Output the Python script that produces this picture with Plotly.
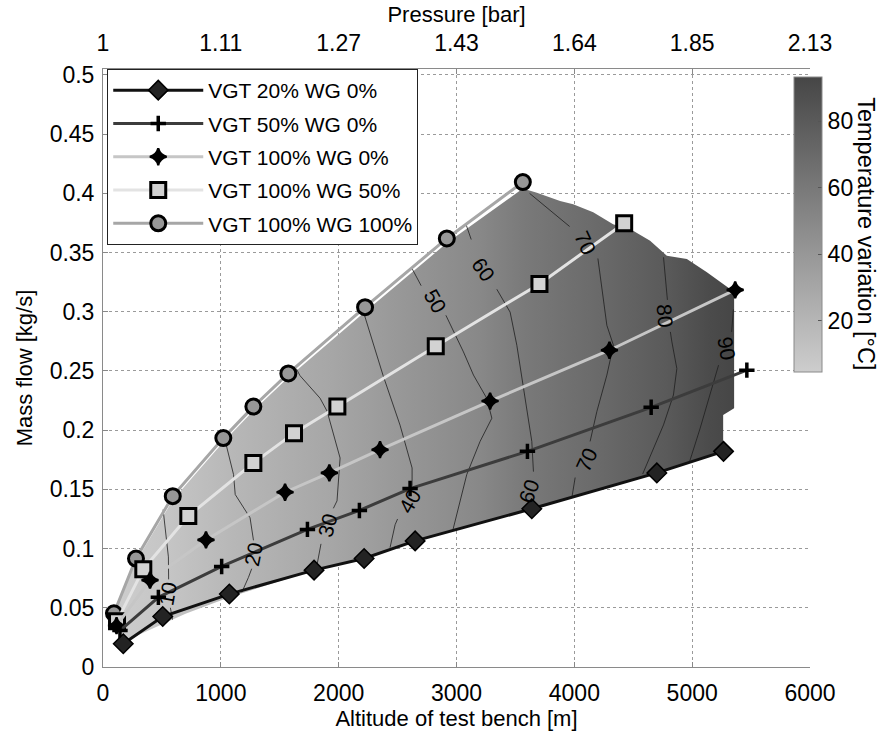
import plotly.graph_objects as go

# ---------------- data ----------------
alt_ticks = [0, 1000, 2000, 3000, 4000, 5000, 6000]
alt_labels = ['0', '1000', '2000', '3000', '4000', '5000', '6000']
pressure_labels = ['1', '1.11', '1.27', '1.43', '1.64', '1.85', '2.13']
flow_ticks = [0, 0.05, 0.1, 0.15, 0.2, 0.25, 0.3, 0.35, 0.4, 0.45, 0.5]
flow_labels = ['0', '0.05', '0.1', '0.15', '0.2', '0.25', '0.3', '0.35', '0.4', '0.45', '0.5']
cbar_ticks = [20, 40, 60, 80]

series_names = ['VGT 20% WG 0%', 'VGT 50% WG 0%', 'VGT 100% WG 0%',
                'VGT 100% WG 50%', 'VGT 100% WG 100%']

s1_x = [172, 507, 1072, 1791, 2216, 2649, 3639, 4700, 5266]
s1_y = [0.0196, 0.0426, 0.0616, 0.0818, 0.0916, 0.1065, 0.1336, 0.1639, 0.1821]
s2_x = [144, 470, 1007, 1735, 2176, 2606, 3602, 4652, 5464]
s2_y = [0.0308, 0.0588, 0.0849, 0.1162, 0.1322, 0.1507, 0.1821, 0.2193, 0.2507]
s3_x = [115, 399, 874, 1545, 1921, 2351, 3285, 4298, 5365]
s3_y = [0.035, 0.0734, 0.1073, 0.1476, 0.1639, 0.1835, 0.2246, 0.2675, 0.3185]
s4_x = [119, 342, 724, 1276, 1621, 1989, 2824, 3704, 4423]
s4_y = [0.0387, 0.0826, 0.1275, 0.1723, 0.1975, 0.2199, 0.2709, 0.3235, 0.3748]
s5_x = [93, 280, 592, 1021, 1276, 1573, 2224, 2918, 3563]
s5_y = [0.0454, 0.0916, 0.1443, 0.1933, 0.2199, 0.2479, 0.3039, 0.3619, 0.4095]

# outline of the temperature surface
surf_x = [93, 280, 592, 1021, 1276, 1573, 2224, 2918, 3563, 3682, 3879, 3990, 4160,
          4329, 4499, 4643, 4785, 4955, 5125, 5322, 5356, 5356, 5263, 5263, 4700,
          3639, 2649, 2216, 1791, 1480, 1072, 700, 507, 300, 172, 120]
surf_y = [0.0454, 0.0890, 0.1410, 0.1900, 0.2165, 0.2445, 0.3000, 0.3580, 0.4040,
          0.4006, 0.3935, 0.3908, 0.3840, 0.3739, 0.3683, 0.3599, 0.3473, 0.3445,
          0.3334, 0.3193, 0.3137, 0.2185, 0.2129, 0.1821, 0.1639, 0.1336, 0.1065,
          0.0916, 0.0818, 0.0720, 0.0590, 0.0450, 0.0360, 0.0270, 0.0196, 0.0300]

# temperature profile across the surface (altitude -> temperature variation)
temp_prof_x = [100, 555, 1150, 1950, 2550, 3200, 3590, 4200, 4780, 5150, 5360]
temp_prof_v = [4.7, 10, 20, 30, 40, 50, 60, 70, 80, 90, 93.4]
temp_min, temp_max = 4.7, 93.4

# iso-temperature lines (None = break for the label)
c10_x = [510, 528, 555, 557, None, 572, 590]
c10_y = [0.133, 0.115, 0.093, 0.074, None, 0.050, 0.040]
c20_x = [1030, 1052, 1108, 1122, 1248, 1277, None, 1262, 1234, 1178]
c20_y = [0.195, 0.185, 0.1625, 0.1457, 0.126, 0.107, None, 0.083, 0.0756, 0.063]
c30_x = [1640, 1672, 1842, 1902, 2012, 1986, 1955, None, 1850, 1817]
c30_y = [0.252, 0.246, 0.227, 0.216, 0.1765, 0.1403, 0.134, None, 0.104, 0.0866]
c40_x = [2210, 2377, 2521, 2623, 2623, None, 2500, 2479, 2436]
c40_y = [0.300, 0.2462, 0.2042, 0.1681, 0.153, None, 0.125, 0.1202, 0.1008]
c50_x = [2620, 2700, None, 2910, 3059, 3144, 3257, 3300, 3200, 3087, 3016, 2970]
c50_y = [0.337, 0.322, None, 0.297, 0.2661, 0.2465, 0.2269, 0.2101, 0.1905, 0.1625, 0.1345, 0.116]
c60_x = [3080, 3125, None, 3342, 3455, 3512, 3554, 3597, 3639, 3653]
c60_y = [0.374, 0.361, None, 0.319, 0.2997, 0.2717, 0.2437, 0.2157, 0.1905, 0.165]
c70_x = [3620, 3960, None, 4200, 4233, 4276, 4332, 4276, 4191, 4134, None, 4007, 3979]
c70_y = [0.400, 0.372, None, 0.345, 0.322, 0.2885, 0.2717, 0.2465, 0.2157, 0.1905, None, 0.160, 0.143]
c80_x = [4757, 4790, None, 4815, 4828, 4870, 4841, 4757, 4658, 4601, 4580]
c80_y = [0.346, 0.310, None, 0.283, 0.2745, 0.252, 0.2297, 0.2045, 0.182, 0.168, 0.163]
c90_x = [5350, 5335, None, 5224, 5153, 5068, 4997, 4980]
c90_y = [0.302, 0.283, None, 0.2549, 0.2297, 0.2017, 0.1793, 0.174]

lab_text = ['10', '20', '30', '40', '50', '60', '70', '80', '90', '60', '70']
lab_x = [545, 1277, 1905, 2600, 2818, 3229, 4092, 4771, 5294, 3611, 4106]
lab_y = [0.0615, 0.095, 0.1195, 0.140, 0.3095, 0.336, 0.3585, 0.297, 0.269, 0.1485, 0.175]
lab_angle = [-80, -78, -75, -60, 60, 55, 65, 85, 80, -70, -65]

# ---------------- styling helpers ----------------
G_LIGHT, G_DARK = 205, 70


def gray(t):
    g = round(G_LIGHT + (t - temp_min) / (temp_max - temp_min) * (G_DARK - G_LIGHT))
    return f'rgb({g},{g},{g})'


x0, x1 = temp_prof_x[0], temp_prof_x[-1]
grad_scale = [[(x - x0) / (x1 - x0), gray(v)] for x, v in zip(temp_prof_x, temp_prof_v)]

FONT = 'Liberation Sans, Arial, Helvetica, sans-serif'
TICK = 23
TITLE = 22

fig = go.Figure()

# temperature surface
fig.add_trace(go.Scatter(
    x=surf_x, y=surf_y, mode='lines', fill='toself', line=dict(width=0),
    fillgradient=dict(type='horizontal', colorscale=grad_scale, start=x0, stop=x1),
    showlegend=False, hoverinfo='skip'))

# iso lines
cx, cy = [], []
for xs, ys in [(c10_x, c10_y), (c20_x, c20_y), (c30_x, c30_y), (c40_x, c40_y),
               (c50_x, c50_y), (c60_x, c60_y), (c70_x, c70_y), (c80_x, c80_y),
               (c90_x, c90_y)]:
    cx += xs + [None]
    cy += ys + [None]
fig.add_trace(go.Scatter(x=cx, y=cy, mode='lines', line=dict(color='#1e1e1e', width=0.8),
                         showlegend=False, hoverinfo='skip', connectgaps=False))

for t, x, y, a in zip(lab_text, lab_x, lab_y, lab_angle):
    fig.add_annotation(x=x, y=y, text=t, showarrow=False, textangle=a,
                       font=dict(size=21, color='black', family=FONT))

# series (drawn last-to-first so the first series is on top)
styles = [
    dict(line=dict(color='#111111', width=3),
         marker=dict(symbol='diamond', size=15, color='#232323', line=dict(color='black', width=1.5))),
    dict(line=dict(color='#3c3c3c', width=3),
         marker=dict(symbol='cross-thin', size=11, color='black', line=dict(color='black', width=3.5))),
    dict(line=dict(color='#c6c6c6', width=3),
         marker=dict(symbol='star-diamond', size=12, color='black', line=dict(color='black', width=2.2))),
    dict(line=dict(color='#e3e3e3', width=3),
         marker=dict(symbol='square', size=15, color='#d2d2d2', line=dict(color='black', width=3))),
    dict(line=dict(color='#a6a6a6', width=3),
         marker=dict(symbol='circle', size=15, color='#979797', line=dict(color='black', width=3))),
]
series = [(s1_x, s1_y), (s2_x, s2_y), (s3_x, s3_y), (s4_x, s4_y), (s5_x, s5_y)]
for i in reversed(range(5)):
    xs, ys = series[i]
    fig.add_trace(go.Scatter(x=xs, y=ys, mode='lines+markers', name=series_names[i],
                             legendrank=i + 1, legendgroup=f'g{i}', **styles[i]))

# colour bar carrier
fig.add_trace(go.Scatter(
    x=[None], y=[None], xaxis='x2', mode='markers', showlegend=False, hoverinfo='skip',
    marker=dict(color=[temp_min], cmin=temp_min, cmax=temp_max,
                colorscale=[[0, gray(temp_min)], [1, gray(temp_max)]], showscale=True,
                colorbar=dict(x=0.9774, xanchor='left', y=0.7404, yanchor='middle',
                              len=0.4925, lenmode='fraction', thickness=28, xpad=0, ypad=0,
                              outlinewidth=1, outlinecolor='#8a8a8a', ticks='inside',
                              ticklen=4, tickcolor='#555', tickvals=cbar_ticks,
                              tickfont=dict(size=TICK, family=FONT, color='black')))))

fig.add_annotation(x=1.079, y=0.724, xref='paper', yref='paper', showarrow=False,
                   xanchor='center', yanchor='middle',
                   text='Temperature variation [°C]', textangle=90,
                   font=dict(size=23.5, family=FONT, color='black'))

axis_common = dict(ticks='inside', ticklen=5, tickcolor='#888', showline=True,
                   linecolor='#8a8a8a', linewidth=1, zeroline=False,
                   tickfont=dict(size=TICK, family=FONT, color='black'))

fig.update_layout(
    width=882, height=734,
    margin=dict(l=103, r=72, t=69, b=64),
    paper_bgcolor='white', plot_bgcolor='white',
    font=dict(family=FONT, size=20, color='black'),
    xaxis=dict(range=[0, 6000], tickvals=alt_ticks, ticktext=alt_labels,
               showgrid=True, gridcolor='#9a9a9a', griddash='dot', gridwidth=1,
               ticklabelstandoff=5,
               title=dict(text='Altitude of test bench [m]', font=dict(size=TITLE), standoff=1),
               **axis_common),
    xaxis2=dict(range=[0, 6000], overlaying='x', side='top', tickvals=alt_ticks,
                ticktext=pressure_labels, showgrid=False, ticklabelstandoff=8,
                title=dict(text='Pressure [bar]', font=dict(size=TITLE), standoff=1),
                **axis_common),
    yaxis=dict(range=[0, 0.505], tickvals=flow_ticks, ticktext=flow_labels,
               showgrid=True, gridcolor='#9a9a9a', griddash='dot', gridwidth=1,
               ticklabelstandoff=3,
               title=dict(text='Mass flow [kg/s]', font=dict(size=TITLE), standoff=10),
               **axis_common),
    legend=dict(x=0.006, y=1.0, xanchor='left', yanchor='top', bgcolor='white',
                bordercolor='#222', borderwidth=1, font=dict(size=21, family=FONT),
                itemwidth=90, traceorder='grouped', tracegroupgap=3),
    showlegend=True,
)

fig.write_html('out.html')
